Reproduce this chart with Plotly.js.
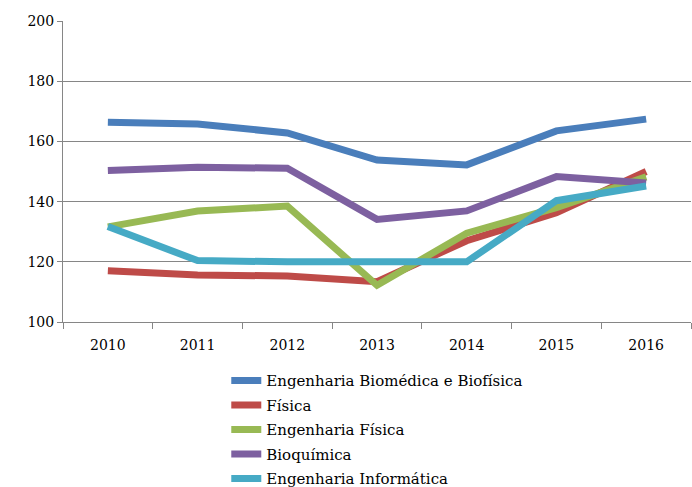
<!DOCTYPE html>
<html>
<head>
<meta charset="utf-8">
<script src="https://cdn.plot.ly/plotly-3.0.1.min.js"></script>
<style>html,body{margin:0;padding:0;background:#fff;}#chart{width:692px;height:487px;}</style>
</head>
<body>
<div id="chart"></div>
<script>
var years = ["2010","2011","2012","2013","2014","2015","2016"];
var seriesNames = ["Engenharia Biomédica e Biofísica","Física","Engenharia Física","Bioquímica","Engenharia Informática"];
var biomedica = [166.4,165.8,162.8,153.8,152.2,163.5,167.4];
var fisica = [117.0,115.6,115.3,113.4,127.0,136.3,150.0];
var engFisica = [131.6,136.9,138.5,112.2,129.5,138.0,148.2];
var bioquimica = [150.3,151.4,151.1,134.1,136.9,148.3,146.2];
var engInformatica = [131.7,120.4,120.0,120.0,120.0,140.3,145.2];
var yTicks = [100,120,140,160,180,200];

var colors = ["#4a7ebb","#be4b48","#98b954","#7d60a0","#46aac5"];
var values = [biomedica, fisica, engFisica, bioquimica, engInformatica];
var traces = values.map(function(v,i){
  return {x: years, y: v, name: seriesNames[i], legendgroup: "g" + i, type: "scatter", mode: "lines",
    line: {color: colors[i], width: 7}, hoverinfo: "none"};
});
var font = {family: "DejaVu Serif", size: 14, color: "#000"};
var legendFont = {family: "DejaVu Serif", size: 15, color: "#000"};
var layout = {
  width: 692, height: 487,
  margin: {l: 63, r: 1, t: 21, b: 165, pad: 0, autoexpand: false},
  paper_bgcolor: "#fff", plot_bgcolor: "#fff",
  font: font,
  showlegend: true,
  legend: {orientation: "v", x: 0.26, xanchor: "left", y: -0.14, yanchor: "top",
    font: legendFont, bgcolor: "rgba(0,0,0,0)", tracegroupgap: 2},
  xaxis: {type: "category", range: [-0.5, 6.5], showgrid: false, showline: true,
    linecolor: "#868686", linewidth: 1, ticks: "outside", tickson: "boundaries",
    ticklen: 6, tickcolor: "#868686", tickfont: font, ticklabelstandoff: 10, zeroline: false, fixedrange: true},
  yaxis: {range: [100, 200], tickvals: yTicks, ticktext: yTicks.map(String),
    showgrid: true, gridcolor: "#868686", gridwidth: 1, showline: true,
    linecolor: "#868686", ticks: "outside", ticklen: 5, tickcolor: "#868686",
    tickfont: font, zeroline: false, fixedrange: true}
};
Plotly.newPlot("chart", traces, layout, {staticPlot: true});
</script>
</body>
</html>
